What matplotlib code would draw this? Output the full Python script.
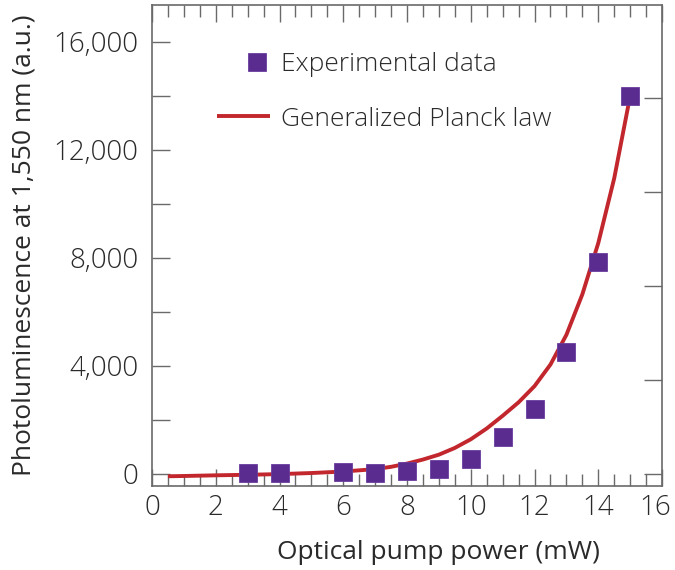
import matplotlib
matplotlib.use("Agg")
import matplotlib.pyplot as plt
from matplotlib.ticker import MultipleLocator, FuncFormatter
from matplotlib.legend_handler import HandlerLine2D
from matplotlib.transforms import ScaledTranslation

# ---- data ----
pump_power = [3, 4, 6, 7, 8, 9, 10, 11, 12, 13, 14, 15]
photolum = [40, 30, 70, 40, 100, 170, 550, 1370, 2400, 4500, 7850, 14000]

fit_x = [0.5, 1, 2, 3, 4, 5, 6, 7, 7.5, 8, 8.5, 9, 9.5, 10, 10.5, 11,
         11.5, 12, 12.5, 13, 13.5, 14, 14.5, 15]
fit_y = [-90, -80, -55, -35, -10, 30, 85, 175, 260, 380, 530, 710, 960, 1280,
         1680, 2150, 2650, 3250, 4050, 5150, 6650, 8550, 10950, 14000]

x_label = "Optical pump power (mW)"
y_label = "Photoluminescence at 1,550 nm (a.u.)"
legend_labels = ["Experimental data", "Generalized Planck law"]

# ---- style ----
plt.rcParams['font.family'] = ['Open Sans', 'DejaVu Sans']
plt.rcParams['font.weight'] = 'light'
text_col = '#2a2a2a'
spine_col = '#6a6a6a'
purple = '#5b2c90'
red = '#c1272d'
fs = 19
tfs = 20

fig = plt.figure(figsize=(6.75, 5.70), dpi=100)
ax = fig.add_axes([0.2252, 0.1474, 0.7556, 0.8439])

line, = ax.plot(fit_x, fit_y, color=red, lw=2.8, solid_capstyle='butt', zorder=2)
pts, = ax.plot(pump_power, photolum, linestyle='none', marker='s', ms=12.6,
               mfc=purple, mec='#6a3d9e', mew=0.6, zorder=3)

ax.set_xlim(0, 16)
ax.set_ylim(-450, 17370)

ax.xaxis.set_major_locator(MultipleLocator(2))
ax.xaxis.set_minor_locator(MultipleLocator(0.5))
ax.yaxis.set_major_locator(MultipleLocator(4000))
ax.yaxis.set_minor_locator(MultipleLocator(2000))
ax.yaxis.set_major_formatter(FuncFormatter(lambda v, p: f"{int(v):,}"))

ax.tick_params(axis='x', which='major', direction='in', length=12.2, width=1.0,
               color=spine_col, top=True, labelsize=tfs, labelcolor=text_col, pad=6)
ax.tick_params(axis='x', which='minor', direction='in', length=8.6, width=1.0,
               color=spine_col, top=True)
ax.tick_params(axis='y', which='both', direction='in', length=13, width=1.0,
               color=spine_col, right=False, labelsize=tfs, labelcolor=text_col, pad=10)

for s in ax.spines.values():
    s.set_color(spine_col)
    s.set_linewidth(1.2)

# right-hand ticks (different spacing in the original figure)
ax2 = ax.twinx()
lo, hi = ax.get_ylim()
scale = 3480.0
ax2.set_ylim(lo / scale, hi / scale)
ax2.yaxis.set_major_locator(MultipleLocator(1))
ax2.tick_params(axis='y', direction='in', length=13, width=1.0, color=spine_col,
                labelright=False)
for s in ax2.spines.values():
    s.set_visible(False)

ax.set_xlabel(x_label, fontsize=fs, color=text_col)
ax.xaxis.set_label_coords(0.5625, -0.112)
ax.set_ylabel(y_label, fontsize=fs, color=text_col, labelpad=12)

# keep the last x tick label inside the figure
fig.canvas.draw()
for lab in ax.get_xticklabels():
    if lab.get_text() == "16":
        lab.set_transform(lab.get_transform() + ScaledTranslation(-5 / 72, 0, fig.dpi_scale_trans))


class RightMarkerHandler(HandlerLine2D):
    def get_xdata(self, legend, xdescent, ydescent, width, height, fontsize):
        c = -xdescent + width * 0.77
        return [c - 1, c + 1], [c]


leg = ax.legend([pts, line], legend_labels, loc='upper left',
                bbox_to_anchor=(0.127, 0.902), frameon=False, fontsize=fs,
                handlelength=2.0, handletextpad=0.42, labelspacing=1.12,
                borderpad=0, borderaxespad=0, numpoints=1,
                handler_map={pts: RightMarkerHandler(numpoints=1)})
for t in leg.get_texts():
    t.set_color(text_col)

fig.savefig("out.png", dpi=100)
